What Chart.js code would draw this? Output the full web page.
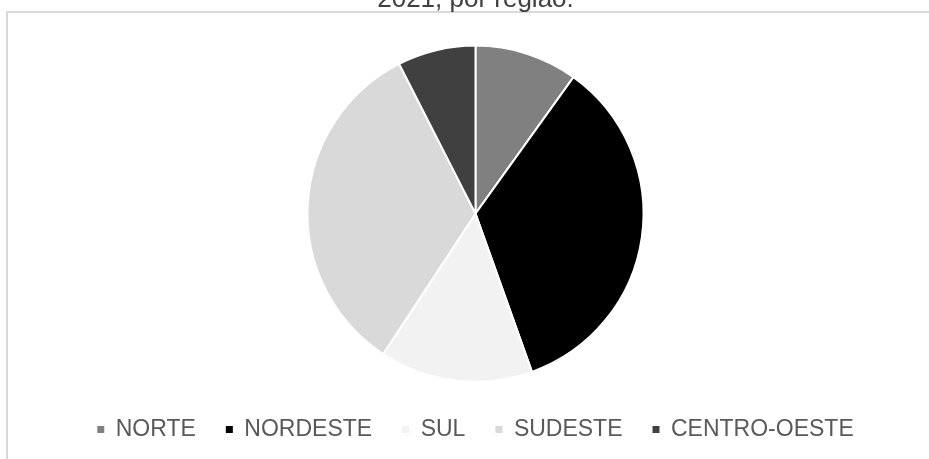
<!DOCTYPE html>
<html>
<head>
<meta charset="utf-8">
<script src="https://cdn.jsdelivr.net/npm/chart.js@4"></script>
<style>
  body { margin: 0; background: #fff; overflow: hidden; }
  #frame { position: absolute; left: 6px; top: 11px; width: 1000px; height: 1000px; border: 2px solid #d9d9d9; }
  #wrap { position: absolute; left: 0; top: -16px; width: 929px; height: 475px; }
</style>
</head>
<body>
<div id="frame"></div>
<div id="wrap"><canvas id="pieChart" width="929" height="475"></canvas></div>
<script>
// distribuição por região
const regioes = ['NORTE', 'NORDESTE', 'SUL', 'SUDESTE', 'CENTRO-OESTE']
const valores = [9.9, 34.6, 14.7, 33.2, 7.5]
const cores = ['#808080', '#000000', '#f2f2f2', '#d9d9d9', '#404040']
const titulo = '2021, por região.'

const fonte = 'Liberation Sans, Arial, sans-serif'
const ctx = document.getElementById('pieChart')

new Chart(ctx, {
  type: 'pie',
  data: {
    labels: regioes,
    datasets: [{
      data: valores,
      backgroundColor: cores,
      borderColor: '#ffffff',
      borderWidth: 2,
      radius: 168
    }]
  },
  options: {
    responsive: false,
    animation: false,
    devicePixelRatio: 1,
    layout: { padding: { left: 22, right: 0, top: 0, bottom: 8 } },
    plugins: {
      title: {
        display: true,
        text: titulo,
        color: '#404040',
        font: { family: fonte, size: 26, weight: 'normal' },
        padding: { top: 0, bottom: 24 }
      },
      legend: {
        position: 'bottom',
        labels: {
          boxWidth: 7,
          boxHeight: 7,
          padding: 30,
          color: '#595959',
          font: { family: fonte, size: 23 },
          generateLabels: chart => Chart.overrides.doughnut.plugins.legend.labels.generateLabels(chart)
            .map(l => ({ ...l, lineWidth: 0, strokeStyle: l.fillStyle }))
        }
      },
      tooltip: { enabled: false }
    }
  }
})
</script>
</body>
</html>
